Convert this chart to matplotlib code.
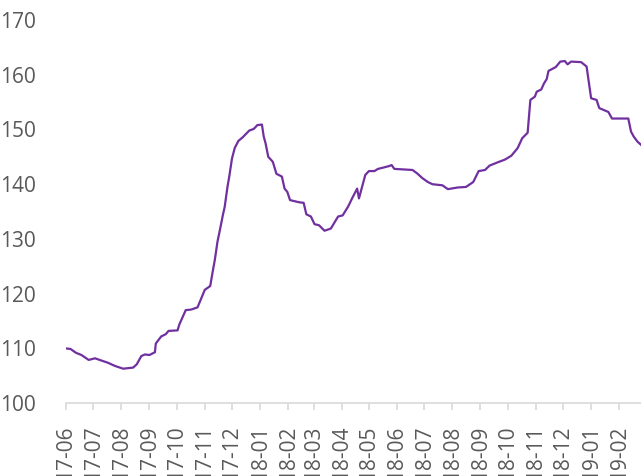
import numpy as np
import pandas as pd
import matplotlib
matplotlib.use("Agg")
import matplotlib.pyplot as plt
import matplotlib.dates as mdates

# (przybliżone)
daty = [
    "2017-06-01", "2017-06-06", "2017-06-12", "2017-06-18", "2017-06-26", "2017-07-03",
    "2017-07-08", "2017-07-17", "2017-07-25", "2017-08-03", "2017-08-14", "2017-08-18",
    "2017-08-23", "2017-08-27", "2017-09-01", "2017-09-07", "2017-09-08", "2017-09-14",
    "2017-09-19", "2017-09-22", "2017-10-02", "2017-10-04", "2017-10-11", "2017-10-17",
    "2017-10-24", "2017-10-28", "2017-11-01", "2017-11-07", "2017-11-10", "2017-11-12",
    "2017-11-15", "2017-11-18", "2017-11-21", "2017-11-23", "2017-11-26", "2017-11-28",
    "2017-12-01", "2017-12-04", "2017-12-08", "2017-12-13", "2017-12-20", "2017-12-25",
    "2017-12-29", "2018-01-03", "2018-01-05", "2018-01-07", "2018-01-10", "2018-01-15",
    "2018-01-19", "2018-01-25", "2018-01-28", "2018-01-31", "2018-02-03", "2018-02-13",
    "2018-02-18", "2018-02-21", "2018-02-26", "2018-03-02", "2018-03-07", "2018-03-13",
    "2018-03-20", "2018-03-28", "2018-04-02", "2018-04-08", "2018-04-13", "2018-04-18",
    "2018-04-20", "2018-04-27", "2018-05-01", "2018-05-07", "2018-05-11", "2018-05-16",
    "2018-05-23", "2018-05-26", "2018-05-29", "2018-06-18", "2018-06-23", "2018-06-29",
    "2018-07-05", "2018-07-10", "2018-07-21", "2018-07-27", "2018-08-07", "2018-08-16",
    "2018-08-24", "2018-08-30", "2018-09-06", "2018-09-11", "2018-09-20", "2018-09-28",
    "2018-10-05", "2018-10-12", "2018-10-17", "2018-10-23", "2018-10-26", "2018-10-31",
    "2018-11-02", "2018-11-07", "2018-11-10", "2018-11-13", "2018-11-15", "2018-11-23",
    "2018-11-28", "2018-12-03", "2018-12-06", "2018-12-10", "2018-12-21", "2018-12-27",
    "2019-01-01", "2019-01-07", "2019-01-10", "2019-01-20", "2019-01-24", "2019-02-11",
    "2019-02-14", "2019-02-17", "2019-02-21", "2019-02-25",
]
wartosci = [
    110.0, 109.9, 109.2, 108.8, 107.9, 108.2,
    107.9, 107.4, 106.8, 106.3, 106.5, 107.1,
    108.6, 108.9, 108.8, 109.3, 110.9, 112.2,
    112.6, 113.2, 113.3, 114.4, 117.0, 117.1,
    117.5, 119.1, 120.7, 121.4, 124.3, 126.1,
    129.5, 131.9, 134.4, 135.9, 139.5, 141.4,
    144.7, 146.6, 147.9, 148.6, 149.8, 150.1,
    150.8, 150.9, 148.7, 147.5, 145.0, 144.1,
    141.9, 141.4, 139.2, 138.6, 137.1, 136.7,
    136.6, 134.5, 134.1, 132.7, 132.5, 131.5,
    131.9, 134.1, 134.3, 135.9, 137.6, 139.2,
    137.4, 141.7, 142.4, 142.4, 142.8, 143.0,
    143.3, 143.5, 142.8, 142.6, 142.0, 141.1,
    140.4, 140.0, 139.8, 139.1, 139.4, 139.5,
    140.4, 142.4, 142.6, 143.4, 144.0, 144.5,
    145.2, 146.6, 148.4, 149.4, 155.4, 156.0,
    156.9, 157.3, 158.4, 159.2, 160.7, 161.4,
    162.4, 162.5, 161.9, 162.4, 162.3, 161.5,
    155.7, 155.4, 153.9, 153.2, 152.0, 152.0,
    149.6, 148.7, 147.8, 147.2,
]
zakres_x = ("2017-06-01", "2019-02-25")

kolor_linii = "#7030A0"
kolor_tekstu = "#595959"
kolor_osi = "#D9D9D9"

plt.rcParams["font.family"] = ["Open Sans", "DejaVu Sans"]
plt.rcParams["font.size"] = 15

x = pd.to_datetime(daty)
fig = plt.figure(figsize=(6.41, 4.76), dpi=100)
ax = fig.add_axes([0.103, 0.153, 0.897, 0.805])
ax.plot(x, wartosci, color=kolor_linii, linewidth=1.6)

ax.set_xlim(pd.Timestamp(zakres_x[0]), pd.Timestamp(zakres_x[1]))
ax.set_ylim(100, 170)
ax.set_yticks(np.arange(100, 171, 10))
ax.xaxis.set_major_locator(mdates.MonthLocator())
ax.xaxis.set_major_formatter(mdates.DateFormatter("%y-%m"))

for s in ["top", "right", "left"]:
    ax.spines[s].set_visible(False)
ax.spines["bottom"].set_color(kolor_osi)
ax.spines["bottom"].set_linewidth(1.2)
ax.tick_params(axis="x", colors=kolor_osi, labelcolor=kolor_tekstu, length=5,
               width=1.2, rotation=90, pad=11, labelsize=15)
ax.tick_params(axis="y", length=0, labelcolor=kolor_tekstu, pad=22, labelsize=15)

fig.savefig("out.png", dpi=100)
